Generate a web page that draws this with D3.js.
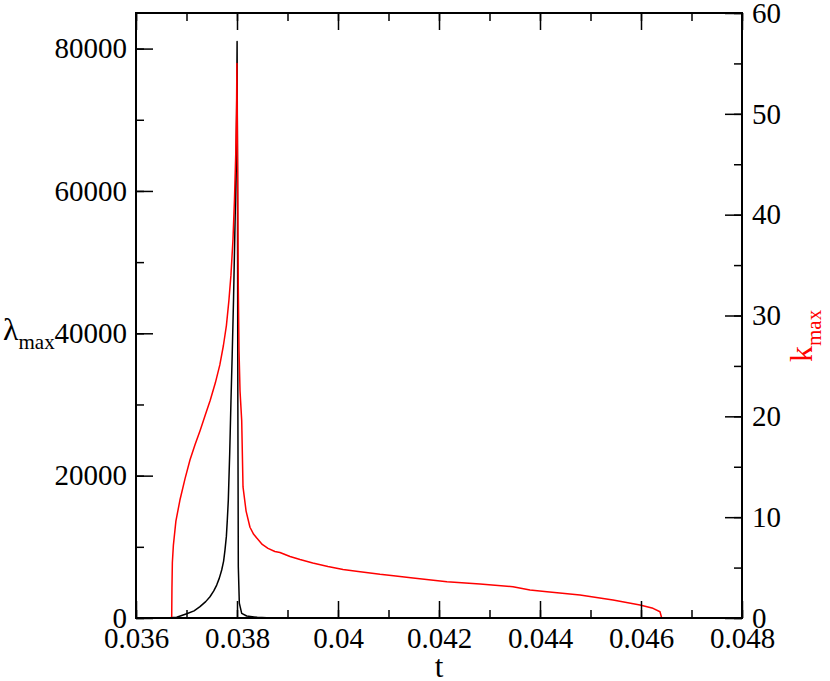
<!DOCTYPE html>
<html><head><meta charset="utf-8">
<script src="https://cdn.jsdelivr.net/npm/d3@7"></script>
<style>body{margin:0;background:#fff}svg{display:block}</style>
</head><body>
<svg id="c" width="830" height="681"></svg>
<script>
// Data
const tRed = [0.036707,0.036712,0.036720,0.036740,0.036790,0.036870,0.036970,0.037070,0.037170,0.037270,0.037370,0.037470,0.037570,0.037660,0.037730,0.037790,0.037840,0.037880,0.037920,0.037950,0.037975,0.037990,0.037998,0.038012,0.038025,0.038040,0.038060,0.038093,0.038119,0.038180,0.038257,0.038330,0.038396,0.038500,0.038614,0.038750,0.038851,0.038950,0.039050,0.039248,0.039500,0.039800,0.040100,0.040400,0.040832,0.041100,0.041485,0.042158,0.042812,0.043465,0.043802,0.044139,0.044792,0.045446,0.045980,0.046238,0.046376,0.046410,0.048];
const kRed = [0,3.0,5.5,7.2,9.6,11.7,13.8,15.7,17.2,18.6,20.1,21.6,23.3,25.1,27.0,29.0,31.5,34.0,37.5,41.5,46.0,50.0,55.0,45.0,33.0,26.5,22.5,19.6,13.0,10.6,9.0,8.3,7.9,7.3,6.9,6.6,6.5,6.3,6.1,5.8,5.45,5.1,4.8,4.6,4.33,4.2,3.97,3.6,3.37,3.10,2.78,2.61,2.28,1.79,1.29,0.96,0.62,0,0];
const tBlack = [0.036,0.036600,0.036806,0.037004,0.037150,0.037267,0.037380,0.037465,0.037540,0.037598,0.037650,0.037697,0.037735,0.037762,0.037790,0.037808,0.037828,0.037855,0.037881,0.037905,0.037931,0.037950,0.037970,0.037985,0.037995,0.038002,0.038010,0.038017,0.038026,0.038046,0.038093,0.038192,0.038400,0.038588,0.039,0.048];
const lamBlack = [0,0,100,600,1000,1590,2300,2990,3800,4630,5600,6740,8000,9540,11500,13750,16560,23000,30600,37000,44630,51500,58670,65500,72700,81000,60000,30000,7200,2100,660,280,90,40,10,0];
const tTicks = [0.036,0.038,0.04,0.042,0.044,0.046,0.048];
const tTickLabels = ["0.036","0.038","0.04","0.042","0.044","0.046","0.048"];
const lamTicks = [0,20000,40000,60000,80000];
const kTicks = [0,10,20,30,40,50,60];

const FONT = "'Liberation Serif','Times New Roman',serif";
const svg = d3.select("#c");
const L=136, R=742, T=13, B=618;
const x = d3.scaleLinear().domain([0.036,0.048]).range([L,R]);
const yL = d3.scaleLinear().domain([0,85000]).range([B,T]);
const yR = d3.scaleLinear().domain([0,60]).range([B,T]);

const plot = svg.append("g");
plot.append("path").datum(tBlack.map((t,i)=>[t,lamBlack[i]]))
  .attr("d", d3.line().x(d=>x(d[0])).y(d=>yL(d[1])))
  .attr("fill","none").attr("stroke","#000").attr("stroke-width",1.5).attr("stroke-linejoin","round");
plot.append("path").datum(tRed.map((t,i)=>[t,kRed[i]]))
  .attr("d", d3.line().x(d=>x(d[0])).y(d=>yR(d[1])))
  .attr("fill","none").attr("stroke","#ff0000").attr("stroke-width",1.5).attr("stroke-linejoin","round");

function styleAxis(g){
  g.attr("font-family",null).attr("font-size",null);
  g.select(".domain").remove();
  g.selectAll("line").attr("stroke","#000").attr("stroke-width",1.5);
  g.selectAll("text").style("font-size","29px").style("font-family",FONT).attr("fill","#000");
}
// bottom axis
const xMinor = d3.range(0.036,0.0481,0.001);
svg.append("g").attr("transform",`translate(0,${B})`)
  .call(d3.axisBottom(x).tickValues(xMinor).tickSize(-8).tickFormat(""))
  .call(styleAxis);
svg.append("g").attr("transform",`translate(0,${B})`)
  .call(d3.axisBottom(x).tickValues(tTicks).tickSize(-17).tickPadding(9).tickFormat((d,i)=>tTickLabels[i]))
  .call(styleAxis);
// top axis
svg.append("g").attr("transform",`translate(0,${T})`)
  .call(d3.axisTop(x).tickValues(xMinor).tickSize(-8).tickFormat("")).call(styleAxis);
svg.append("g").attr("transform",`translate(0,${T})`)
  .call(d3.axisTop(x).tickValues(tTicks).tickSize(-17).tickFormat("")).call(styleAxis);
// left axis
svg.append("g").attr("transform",`translate(${L},0)`)
  .call(d3.axisLeft(yL).tickValues(d3.range(0,85000,10000)).tickSize(-8).tickFormat("")).call(styleAxis);
svg.append("g").attr("transform",`translate(${L},0)`)
  .call(d3.axisLeft(yL).tickValues(lamTicks).tickSize(-17).tickPadding(9).tickFormat(d3.format("d"))).call(styleAxis);
// right axis
svg.append("g").attr("transform",`translate(${R},0)`)
  .call(d3.axisRight(yR).tickValues(d3.range(0,61,5)).tickSize(-8).tickFormat("")).call(styleAxis);
svg.append("g").attr("transform",`translate(${R},0)`)
  .call(d3.axisRight(yR).tickValues(kTicks).tickSize(-17).tickPadding(10).tickFormat(d3.format("d"))).call(styleAxis);

// frame
svg.append("rect").attr("x",L).attr("y",T).attr("width",R-L).attr("height",B-T)
  .attr("fill","none").attr("stroke","#000").attr("stroke-width",2);

// titles
svg.append("text").attr("x",(L+R)/2).attr("y",677).attr("text-anchor","middle")
  .style("font-family",FONT).style("font-size","31px").text("t");
const lt = svg.append("text").attr("x",3).attr("y",340).style("font-family",FONT).style("font-size","32px");
lt.append("tspan").text("λ");
lt.append("tspan").style("font-size","21px").attr("dy",9).text("max");
const rt = svg.append("text").attr("transform","translate(812,362) rotate(-90)")
  .style("font-family",FONT).style("font-size","32px").attr("fill","#ff0000");
rt.append("tspan").text("k");
rt.append("tspan").style("font-size","21px").attr("dy",9).text("max");
</script>
</body></html>
